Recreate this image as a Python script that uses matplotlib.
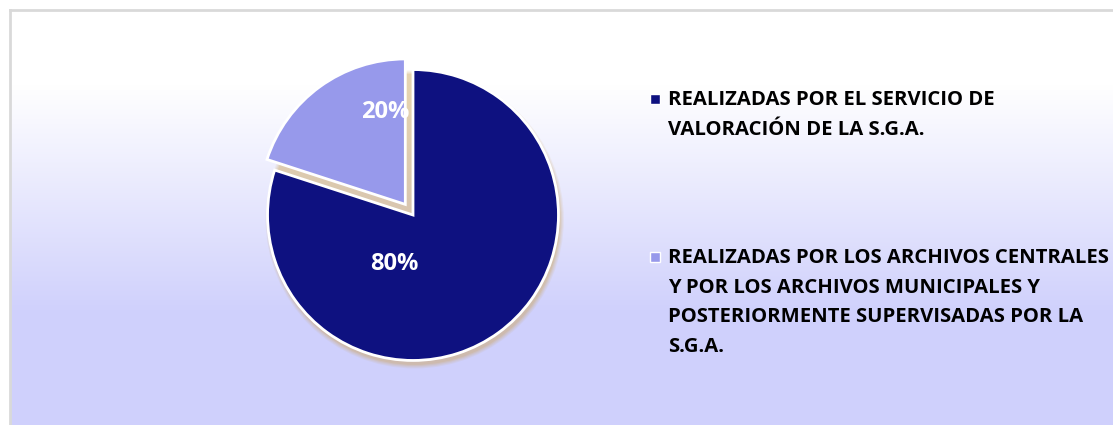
import numpy as np
import matplotlib.pyplot as plt
from matplotlib.patches import Rectangle, Circle

# Data
labels = ["REALIZADAS POR EL SERVICIO DE\nVALORACIÓN DE LA S.G.A.",
          "REALIZADAS POR LOS ARCHIVOS CENTRALES\nY POR LOS ARCHIVOS MUNICIPALES Y\n"
          "POSTERIORMENTE SUPERVISADAS POR LA\nS.G.A."]
shares = [80, 20]
colors = ["#0E1180", "#9799EB"]

plt.rcParams['font.family'] = ['Open Sans', 'DejaVu Sans']

W, H = 1113, 425
fig = plt.figure(figsize=(W / 100, H / 100), dpi=100)
fig.patch.set_facecolor("white")

# background panel with vertical gradient and gray border
bg = fig.add_axes([10 / W, 0, 1 - 10 / W, (H - 10) / H])
rows = np.linspace(0, 1, 415)
top = np.array([1.0, 1.0, 1.0])
bot = np.array([207, 208, 252]) / 255
t = np.clip((rows * 415 - 75) / 230, 0, 1)
grad = top[None, :] * (1 - t[:, None]) + bot[None, :] * t[:, None]
bg.imshow(grad[:, None, :], aspect="auto", extent=[0, 1, 1, 0])
bg.set_xlim(0, 1)
bg.set_ylim(1, 0)
bg.set_xticks([])
bg.set_yticks([])
for s in bg.spines.values():
    s.set_visible(False)
for side in ["left", "top"]:
    bg.spines[side].set_visible(True)
    bg.spines[side].set_color("#D9D9D9")
    bg.spines[side].set_linewidth(2)

# pie axes: centre at (413, 215) px, radius 145 px
cx, cy, half = 413, H - 215, 160
ax = fig.add_axes([(cx - half) / W, (cy - half) / H, 2 * half / W, 2 * half / H])

# soft golden shadow under the pie
for k, a in enumerate([0.1, 0.12, 0.16, 0.2]):
    ax.add_patch(Circle((0.012, -0.03), 1.025 - k * 0.008, color="#CDA65A",
                        alpha=a, lw=0, zorder=0))

wedges, texts, autotexts = ax.pie(
    shares, colors=colors, startangle=90, counterclock=False,
    explode=[0, 0.09], radius=1.0, autopct="%1.0f%%", pctdistance=0.5,
    wedgeprops=dict(edgecolor="white", linewidth=2),
    textprops=dict(color="white", fontsize=17, fontweight="bold"))
for w in wedges:
    w.set_zorder(2)
autotexts[0].set_position((-0.13, -0.34))
autotexts[1].set_position((-0.19, 0.71))
for at in autotexts:
    at.set_zorder(3)
ax.set_xlim(-1.1, 1.1)
ax.set_ylim(-1.1, 1.1)
ax.set_aspect("equal")
ax.axis("off")

# legend drawn by hand
entry_tops = [90, 248]
for col, lab, yt in zip(colors, labels, entry_tops):
    fig.patches.append(Rectangle((650 / W, (H - yt - 14) / H), 10 / W, 10 / H,
                                 transform=fig.transFigure, facecolor=col,
                                 edgecolor="white", lw=1.0))
    fig.text(668 / W, (H - yt) / H, lab, fontsize=14.6, fontweight="bold",
             color="black", va="top", ha="left", linespacing=1.64)

fig.savefig("out.png", dpi=100)
